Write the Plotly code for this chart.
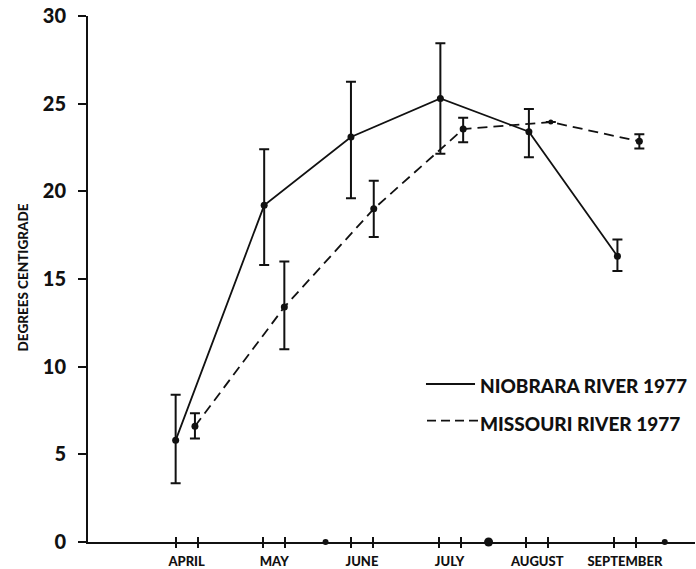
import plotly.graph_objects as go

# ---- data (x in months: 1 = April, 2 = May, ... 6 = September) ----
month_names = ["APRIL", "MAY", "JUNE", "JULY", "AUGUST", "SEPTEMBER"]
month_pos = [1, 2, 3, 4, 5, 6]

nio_x = [1.00, 2.01, 3.00, 4.02, 5.03, 6.04]
nio_y = [5.8, 19.2, 23.1, 25.3, 23.4, 16.3]
nio_err_plus = [2.6, 3.2, 3.15, 3.15, 1.3, 0.95]
nio_err_minus = [2.45, 3.4, 3.5, 3.15, 1.45, 0.85]

mis_x = [1.22, 2.24, 3.26, 4.28, 5.28, 6.29]
mis_y = [6.6, 13.4, 19.0, 23.55, 23.95, 22.85]
mis_err_plus = [0.75, 2.6, 1.6, 0.65, None, 0.4]
mis_err_minus = [0.7, 2.4, 1.6, 0.75, None, 0.4]
mis_marker_size = [7, 7, 7, 7, 5, 7]

axis_dot_x = [2.71, 4.57, 6.58]
axis_dot_y = [0, 0, 0]
axis_dot_size = [6, 9, 6]

y_ticks = [0, 5, 10, 15, 20, 25, 30]

FONT = "Lato"
W = 900
INK = "#111111"

tick_pairs = []
for m in month_pos:
    tick_pairs += [m, m + 0.25]
label_pos = [m + 0.125 for m in month_pos]

fig = go.Figure()

fig.add_trace(go.Scatter(
    x=nio_x, y=nio_y, mode="lines+markers", name="NIOBRARA RIVER 1977",
    line=dict(color=INK, width=1.8),
    marker=dict(color=INK, size=7, opacity=1, line=dict(width=0)),
    error_y=dict(type="data", symmetric=False, array=nio_err_plus,
                 arrayminus=nio_err_minus, color=INK, thickness=2, width=5),
    showlegend=False, cliponaxis=False,
))

fig.add_trace(go.Scatter(
    x=mis_x, y=mis_y, mode="lines", name="MISSOURI RIVER 1977",
    line=dict(color=INK, width=1.8, dash="10px,6px"),
    error_y=dict(type="data", symmetric=False, array=mis_err_plus,
                 arrayminus=mis_err_minus, color=INK, thickness=2, width=5),
    showlegend=False, cliponaxis=False,
))
fig.add_trace(go.Scatter(
    x=mis_x, y=mis_y, mode="markers",
    marker=dict(color=INK, size=mis_marker_size, opacity=1, line=dict(width=0)),
    showlegend=False, cliponaxis=False, hoverinfo="skip",
))

fig.add_trace(go.Scatter(
    x=axis_dot_x, y=axis_dot_y, mode="markers",
    marker=dict(color=INK, size=axis_dot_size, opacity=1, line=dict(width=0)),
    showlegend=False, cliponaxis=False, hoverinfo="skip",
))

# dummy traces so the overlay tick axes are drawn
for ax in ["x2", "x3"]:
    fig.add_trace(go.Scatter(x=[None], y=[None], xaxis=ax, yaxis="y",
                             showlegend=False, hoverinfo="skip"))

xr = [0, 6.925]
fig.update_layout(
    width=696, height=569,
    margin=dict(l=88, r=1, t=16, b=27, autoexpand=False),
    paper_bgcolor="white", plot_bgcolor="white",
    xaxis=dict(range=xr, showgrid=False, zeroline=False, automargin=False,
               showline=True, linecolor=INK, linewidth=2,
               tickmode="array", tickvals=label_pos, ticktext=month_names,
               ticks="", ticklabelstandoff=6,
               tickfont=dict(family=FONT, size=13, color=INK, weight=W)),
    xaxis2=dict(range=xr, overlaying="x", anchor="y", side="bottom",
                automargin=False,
                showgrid=False, zeroline=False, showline=False,
                tickmode="array", tickvals=tick_pairs, showticklabels=False,
                ticks="outside", ticklen=5, tickwidth=2, tickcolor=INK),
    xaxis3=dict(range=xr, overlaying="x", anchor="y", side="bottom",
                automargin=False,
                showgrid=False, zeroline=False, showline=False,
                tickmode="array", tickvals=tick_pairs, showticklabels=False,
                ticks="inside", ticklen=5, tickwidth=2, tickcolor=INK),
    yaxis=dict(range=[0, 30], showgrid=False, zeroline=False, automargin=False,
               showline=True, linecolor=INK, linewidth=2,
               tickmode="array", tickvals=y_ticks,
               ticks="outside", ticklen=8, tickwidth=2, tickcolor=INK,
               ticklabelstandoff=8,
               tickfont=dict(family=FONT, size=20, color=INK, weight=W)),
)

# y-axis title
fig.add_annotation(text="DEGREES CENTIGRADE", textangle=-90, showarrow=False,
                   xref="paper", yref="paper", x=0, y=0.503, xshift=-75,
                   font=dict(family=FONT, size=13.5, color=INK, weight=W))

# legend (text + line samples)
fig.add_annotation(text="NIOBRARA RIVER 1977", showarrow=False,
                   xref="paper", yref="paper", x=0.6425, y=0.2966,
                   xanchor="left", yanchor="middle",
                   font=dict(family=FONT, size=19, color=INK, weight=W))
fig.add_annotation(text="MISSOURI RIVER 1977", showarrow=False,
                   xref="paper", yref="paper", x=0.6425, y=0.2262,
                   xanchor="left", yanchor="middle",
                   font=dict(family=FONT, size=19, color=INK, weight=W))
fig.add_shape(type="line", xref="paper", yref="paper",
              x0=0.5568, x1=0.6376, y0=0.3004, y1=0.3004,
              line=dict(color=INK, width=1.8))
fig.add_shape(type="line", xref="paper", yref="paper",
              x0=0.5585, x1=0.6425, y0=0.2306, y1=0.2306,
              line=dict(color=INK, width=1.8, dash="9px,5px"))

fig.write_html("out.html", config={"displayModeBar": False},
               post_script="document.body.style.margin='0';document.body.style.overflow='hidden';")
